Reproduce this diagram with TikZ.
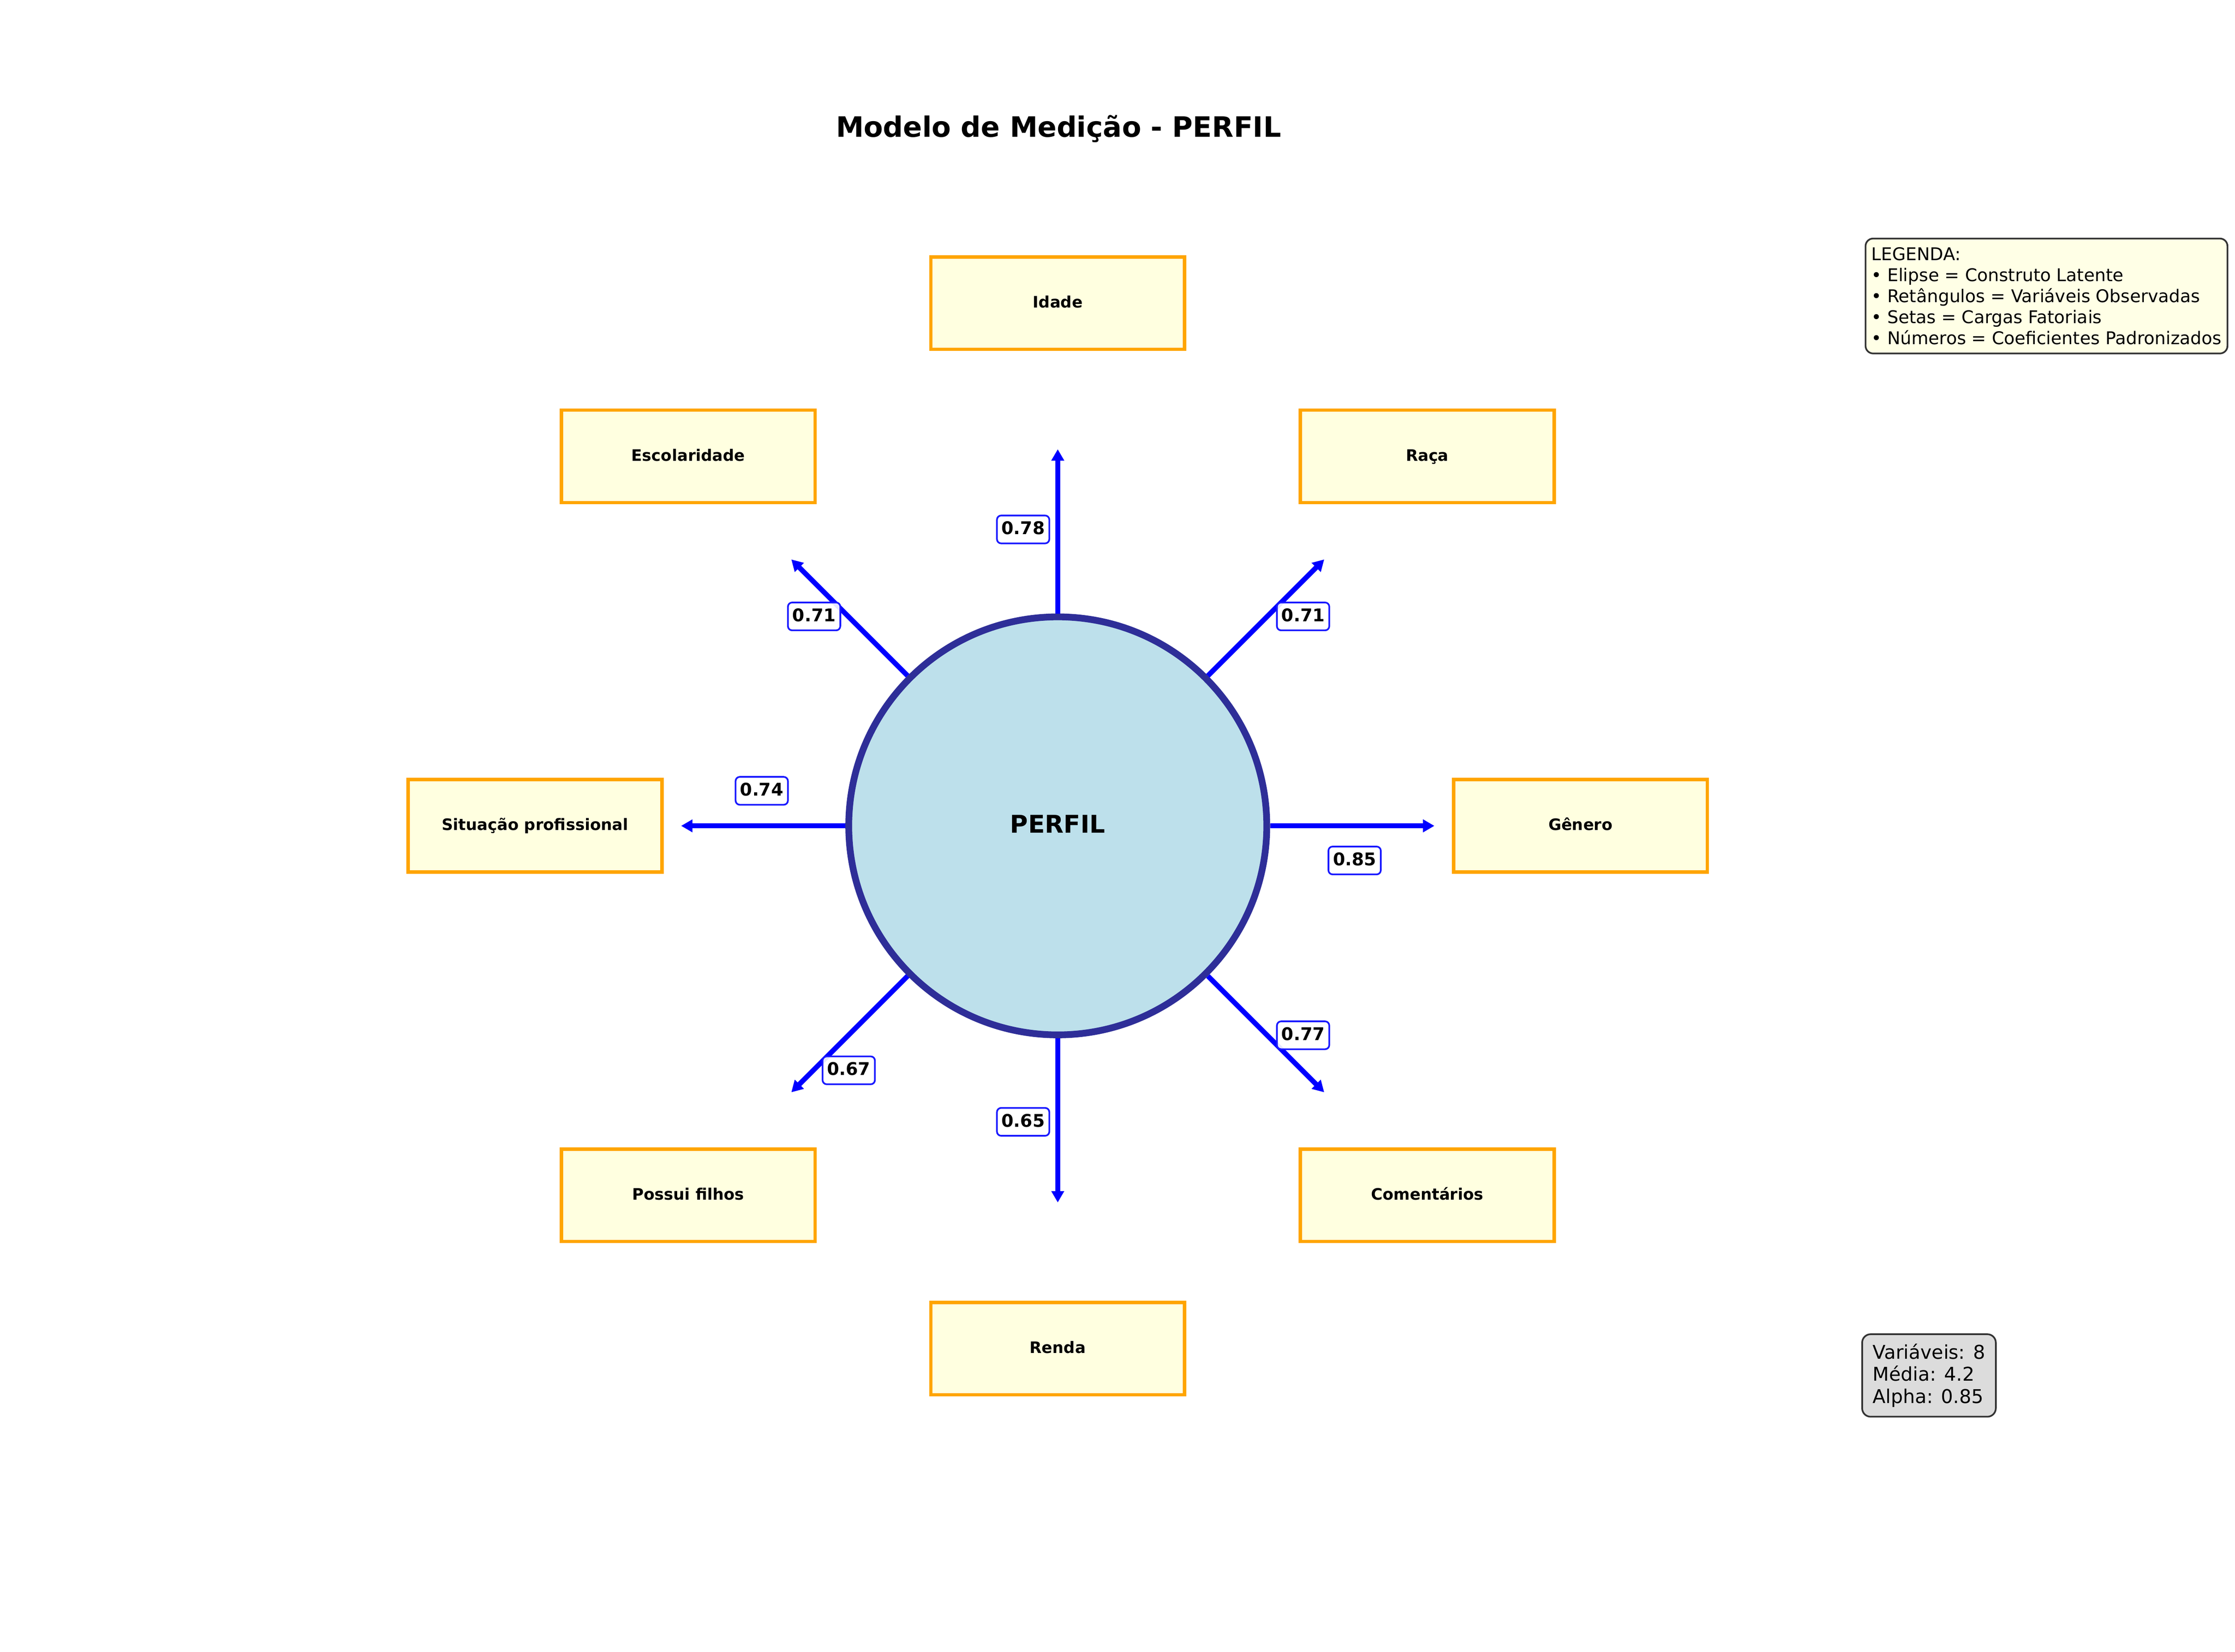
\documentclass[tikz,border=0pt]{standalone}
\usepackage{fontspec}
\setmainfont{DejaVu Sans}
\usetikzlibrary{arrows.meta}
\definecolor{boxfill}{HTML}{FFFFE0}
\definecolor{boxedge}{HTML}{FFA500}
\definecolor{circfill}{HTML}{BDE0EB}
\definecolor{circedge}{RGB}{46,46,152}
\definecolor{legfill}{HTML}{FFFFE6}
\definecolor{legedge}{HTML}{333333}
\definecolor{statfill}{HTML}{DCDCDC}
\definecolor{lblblue}{RGB}{25,25,255}
\begin{document}
\begin{tikzpicture}[
  obsbox/.style={draw=boxedge, fill=boxfill, line width=0.08cm, minimum width=6.01cm, minimum height=2.19cm, inner sep=0pt, font=\fontsize{10.63pt}{12.75pt}\selectfont\bfseries, text height=0.217cm, text depth=0pt},
  latent/.style={circle, draw=circedge, fill=circfill, line width=0.16cm, minimum size=9.9cm, inner sep=0pt, font=\fontsize{16.53pt}{19.8pt}\selectfont\bfseries, text height=0.337cm, text depth=0pt},
  load/.style={draw=blue, line width=0.12cm, -{Triangle[length=0.27cm,width=0.29cm]}},
  coef/.style={draw=lblblue, fill=white, fill opacity=0.9, text opacity=1, line width=0.04cm, rounded corners=0.1cm, minimum width=1.24cm, minimum height=0.66cm, inner sep=0pt, font=\fontsize{11.81pt}{14.2pt}\selectfont\bfseries, text height=0.24cm, text depth=0pt},
  infobox/.style={draw=legedge, line width=0.04cm, rounded corners=0.18cm, align=left, anchor=north west},
]
\useasboundingbox (0,0) rectangle (52.93,39.12);
\fill[white] (0,0) rectangle (52.93,39.12);

\node[font=\fontsize{18.9pt}{22.7pt}\selectfont\bfseries, anchor=base] (title) at (25.07,35.88) {Modelo de Medição - PERFIL};

\node[latent] (P) at (25.05,19.56) {PERFIL};

\coordinate (t90) at (25.05,28.48);
\coordinate (t45) at (31.36,25.87);
\coordinate (t0) at (33.97,19.56);
\coordinate (tm45) at (31.36,13.25);
\coordinate (tm90) at (25.05,10.64);
\coordinate (tm135) at (18.74,13.25);
\coordinate (t180) at (16.13,19.56);
\coordinate (t135) at (18.74,25.87);

\draw[load] (P.90) -- (t90);
\draw[load] (P.45) -- (t45);
\draw[load] (P.0) -- (t0);
\draw[load] (P.-45) -- (tm45);
\draw[load] (P.-90) -- (tm90);
\draw[load] (P.-135) -- (tm135);
\draw[load] (P.180) -- (t180);
\draw[load] (P.135) -- (t135);

\node[coef] (c90) at (24.23,26.58) {0.78};
\node[coef] (c45) at (30.86,24.52) {0.71};
\node[coef] (c0) at (32.08,18.74) {0.85};
\node[coef] (cm45) at (30.86,14.60) {0.77};
\node[coef] (cm90) at (24.23,12.55) {0.65};
\node[coef] (cm135) at (20.10,13.77) {0.67};
\node[coef] (c180) at (18.04,20.39) {0.74};
\node[coef] (c135) at (19.28,24.52) {0.71};

\node[obsbox] (idade) at (25.05,31.94) {Idade};
\node[obsbox] (raca) at (33.80,28.31) {Raça};
\node[obsbox] (genero) at (37.43,19.56) {Gênero};
\node[obsbox] (coment) at (33.80,10.81) {Comentários};
\node[obsbox] (renda) at (25.05,7.18) {Renda};
\node[obsbox] (filhos) at (16.30,10.81) {Possui filhos};
\node[obsbox] (situacao) at (12.67,19.56) {Situação profissional};
\node[obsbox] (escol) at (16.30,28.31) {Escolaridade};

\node[infobox, fill=legfill, inner xsep=0.14cm, inner ysep=0.21cm, font=\fontsize{11.81pt}{14.14pt}\selectfont] (legend) at (44.16,33.49)
  {LEGENDA:\\• Elipse = Construto Latente\\• Retângulos = Variáveis Observadas\\• Setas = Cargas Fatoriais\\• Números = Coeficientes Padronizados};

\node[infobox, fill=statfill, inner xsep=0.25cm, inner ysep=0.23cm, rounded corners=0.2cm, font=\fontsize{12.8pt}{14.8pt}\selectfont] (stats) at (44.08,7.54)
  {Variáveis: 8\\Média: 4.2\\Alpha: 0.85};
\end{tikzpicture}
\end{document}
